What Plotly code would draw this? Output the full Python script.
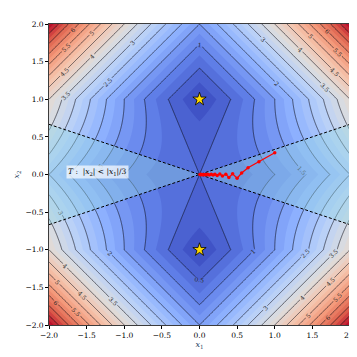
import numpy as np
import plotly.graph_objects as go

# grid for the objective f(x1, x2) = 0.5 x1^2 + 0.5 |1 - x2^2| + |x1 x2|
x1 = np.linspace(-2, 2, 401)
x2 = np.linspace(-2, 2, 401)
X1, X2 = np.meshgrid(x1, x2)
Z = 0.5 * X1**2 + 0.5 * np.abs(1 - X2**2) + np.abs(X1 * X2)

# minimisers
min_x1 = [0.0, 0.0]
min_x2 = [1.0, -1.0]

# gradient descent iterates
path_x1 = [1.0, 0.79, 0.645, 0.56, 0.50, 0.44, 0.39, 0.35, 0.305, 0.27, 0.235,
           0.205, 0.18, 0.155, 0.13, 0.11, 0.09, 0.075, 0.06, 0.048, 0.038,
           0.03, 0.022, 0.016, 0.011, 0.007]
path_x2 = [0.29, 0.17, 0.09, 0.02, -0.05, 0.01, -0.04, 0.004, -0.02, 0.006, -0.012,
           0.004, -0.008, 0.003, -0.006, 0.002, -0.004, 0.001, -0.003, 0.001, -0.002,
           0.001, -0.001, 0.0, 0.0, 0.0]

# region T: |x2| < |x1|/3
t_x = [-2, 0, 2]
t_upper = [2 / 3, 0, 2 / 3]
t_lower = [-2 / 3, 0, -2 / 3]

ticks = [-2.0, -1.5, -1.0, -0.5, 0.0, 0.5, 1.0, 1.5, 2.0]
tick_text = [f"{v:.1f}".replace("-", "\u2212") for v in ticks]

coolwarm = [
    [0.0, "rgb(59,76,192)"], [0.125, "rgb(98,130,234)"], [0.25, "rgb(141,176,254)"],
    [0.375, "rgb(184,208,249)"], [0.5, "rgb(221,221,221)"], [0.625, "rgb(245,196,173)"],
    [0.75, "rgb(244,154,123)"], [0.875, "rgb(222,96,77)"], [1.0, "rgb(180,4,38)"],
]

font = "DejaVu Serif"
fig = go.Figure()

fig.add_trace(go.Contour(
    x=x1, y=x2, z=Z, colorscale=coolwarm, zmin=0, zmax=7.5,
    contours=dict(start=0, end=7.5, size=0.25, coloring="fill"),
    line=dict(width=0), showscale=False, hoverinfo="skip"))

fig.add_trace(go.Contour(
    x=x1, y=x2, z=Z,
    contours=dict(start=0.5, end=7.0, size=0.5, coloring="none", showlabels=True,
                  labelfont=dict(size=6, color="rgb(40,40,40)", family=font)),
    line=dict(width=0.75, color="rgba(15,15,25,0.8)"), showscale=False,
    showlegend=False, hoverinfo="skip"))

# shaded region T
fig.add_trace(go.Scatter(
    x=[0, t_x[2], t_x[2], 0, t_x[0], t_x[0], 0],
    y=[0, t_upper[2], t_lower[2], 0, t_upper[0], t_lower[0], 0],
    fill="toself", fillcolor="rgba(150,215,225,0.4)", line=dict(width=0),
    mode="lines", showlegend=False, hoverinfo="skip"))

fig.add_trace(go.Scatter(x=t_x, y=t_upper, mode="lines",
                         line=dict(color="black", width=1, dash="3px,2px"), showlegend=False))
fig.add_trace(go.Scatter(x=t_x, y=t_lower, mode="lines",
                         line=dict(color="black", width=1, dash="3px,2px"), showlegend=False))

fig.add_trace(go.Scatter(x=path_x1, y=path_x2, mode="lines+markers",
                         line=dict(color="red", width=1.2),
                         marker=dict(color="red", size=3.5), showlegend=False))

fig.add_trace(go.Scatter(x=min_x1, y=min_x2, mode="markers",
                         marker=dict(symbol="star", size=10, color="gold",
                                     line=dict(color="black", width=0.8)),
                         showlegend=False))

fig.add_annotation(x=-1.35, y=0.03, showarrow=False,
                   text="<i>T</i> :  |<i>x</i><sub>2</sub>| < |<i>x</i><sub>1</sub>|/3",
                   font=dict(family=font, size=7.5, color="black"),
                   bgcolor="rgba(255,255,255,0.7)", borderpad=1)

axis = dict(range=[-2, 2], tickvals=ticks, ticktext=tick_text, ticks="outside",
            ticklen=3, tickwidth=0.8, tickcolor="black", showgrid=False, zeroline=False,
            showline=True, linecolor="rgb(60,60,60)", linewidth=0.8, mirror=True,
            automargin=False,
            tickfont=dict(family=font, size=7.5, color="black"))

fig.update_layout(
    width=357, height=357,
    margin=dict(l=41, r=15, t=16, b=40),
    showlegend=False,
    paper_bgcolor="white", plot_bgcolor="white",
    xaxis=dict(axis, title=dict(text="<i>x</i><sub>1</sub>", standoff=0,
                                font=dict(family=font, size=8))),
    yaxis=dict(axis, title=dict(text="<i>x</i><sub>2</sub>", standoff=4,
                                font=dict(family=font, size=8))),
)

fig.write_html("out.html")
